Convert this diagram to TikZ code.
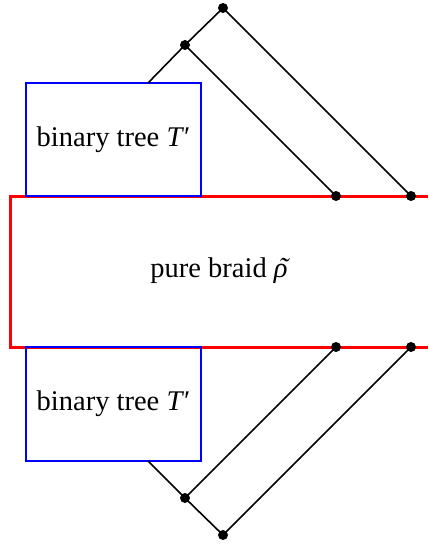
\documentclass[tikz,border=0pt]{standalone}
\usepackage{fontspec}
\setmainfont{Liberation Serif}
\begin{document}
\begin{tikzpicture}[x=1pt,y=-1pt,
  redline/.style={draw=red,line width=3pt},
  bluebox/.style={draw=blue,line width=2.5pt},
  blk/.style={draw=black,line width=1.6pt},
  lbl/.style={font=\fontsize{28.5}{32}\selectfont},
  dot/.style={circle,fill=black,inner sep=0pt,minimum size=10pt}]
\useasboundingbox (0,0) rectangle (428,548);
\draw[redline] (428,196) -- (10,196) -- (10,347) -- (428,347);
\node[lbl] (pb) at (219,271) {pure braid \textit{\makebox[0pt][l]{\kern0.17em\raisebox{0.02em}{˜}}ρ}};
\draw[bluebox] (26,83) rectangle (201,196);
\draw[bluebox] (26,347) rectangle (201,461);
\node[lbl] (t1) at (113.5,140) {binary tree \textit{T}′};
\node[lbl] (t2) at (113.5,404) {binary tree \textit{T}′};
\node[dot] (a) at (223,8) {};
\node[dot] (b) at (185,45) {};
\node[dot] (c) at (336,196) {};
\node[dot] (d) at (411,196) {};
\coordinate (e) at (148,83);
\draw[blk] (e) -- (b.center) -- (a.center) -- (d.center);
\draw[blk] (b.center) -- (c.center);
\node[dot] (a2) at (223,535) {};
\node[dot] (b2) at (185,498) {};
\node[dot] (c2) at (336,347) {};
\node[dot] (d2) at (411,347) {};
\coordinate (e2) at (148,461);
\draw[blk] (e2) -- (b2.center) -- (a2.center) -- (d2.center);
\draw[blk] (b2.center) -- (c2.center);
\end{tikzpicture}
\end{document}
